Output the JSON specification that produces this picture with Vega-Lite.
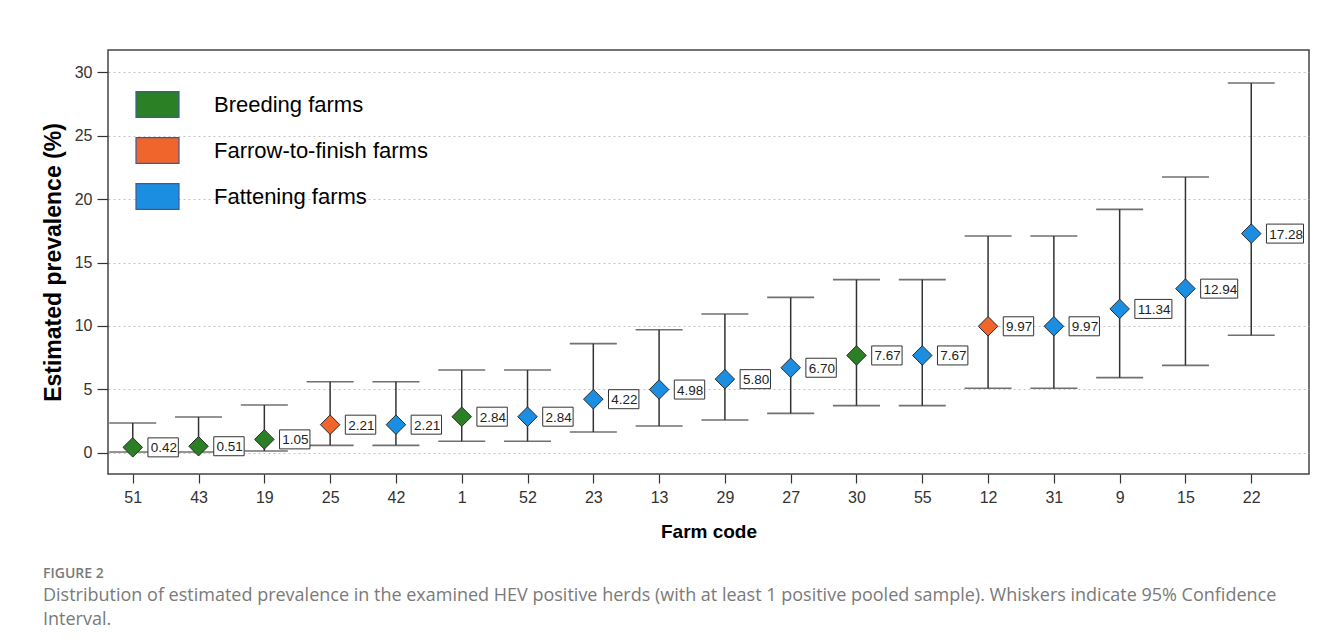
{
  "$schema": "https://vega.github.io/schema/vega-lite/v6.json",
  "width": 1201,
  "height": 424,
  "autosize": {"type": "none"},
  "padding": {"left": 108, "top": 50, "right": 11, "bottom": 170},
  "background": "white",
  "title": {
    "text": "FIGURE 2",
    "subtitle": ["Distribution of estimated prevalence in the examined HEV positive herds (with at least 1 positive pooled sample). Whiskers indicate 95% Confidence", "Interval."],
    "orient": "bottom",
    "anchor": "start",
    "frame": "group",
    "dx": -65,
    "offset": 26,
    "font": "Open Sans",
    "fontSize": 14,
    "fontWeight": 600,
    "color": "#7a7a7a",
    "subtitleFont": "Open Sans",
    "subtitleFontSize": 18,
    "subtitleColor": "#7a7a7a",
    "subtitleLineHeight": 24,
    "subtitlePadding": 6
  },
  "data": {
    "values": [
      {"code": "51", "type": "Breeding farms", "est": 0.42, "lo": 0.05, "hi": 2.34, "label": "0.42"},
      {"code": "43", "type": "Breeding farms", "est": 0.51, "lo": 0.05, "hi": 2.81, "label": "0.51"},
      {"code": "19", "type": "Breeding farms", "est": 1.05, "lo": 0.13, "hi": 3.76, "label": "1.05"},
      {"code": "25", "type": "Farrow-to-finish farms", "est": 2.21, "lo": 0.58, "hi": 5.6, "label": "2.21"},
      {"code": "42", "type": "Fattening farms", "est": 2.21, "lo": 0.58, "hi": 5.6, "label": "2.21"},
      {"code": "1", "type": "Breeding farms", "est": 2.84, "lo": 0.9, "hi": 6.52, "label": "2.84"},
      {"code": "52", "type": "Fattening farms", "est": 2.84, "lo": 0.9, "hi": 6.52, "label": "2.84"},
      {"code": "23", "type": "Fattening farms", "est": 4.22, "lo": 1.63, "hi": 8.6, "label": "4.22"},
      {"code": "13", "type": "Fattening farms", "est": 4.98, "lo": 2.1, "hi": 9.7, "label": "4.98"},
      {"code": "29", "type": "Fattening farms", "est": 5.8, "lo": 2.58, "hi": 10.94, "label": "5.80"},
      {"code": "27", "type": "Fattening farms", "est": 6.7, "lo": 3.1, "hi": 12.25, "label": "6.70"},
      {"code": "30", "type": "Breeding farms", "est": 7.67, "lo": 3.71, "hi": 13.65, "label": "7.67"},
      {"code": "55", "type": "Fattening farms", "est": 7.67, "lo": 3.71, "hi": 13.65, "label": "7.67"},
      {"code": "12", "type": "Farrow-to-finish farms", "est": 9.97, "lo": 5.08, "hi": 17.09, "label": "9.97"},
      {"code": "31", "type": "Fattening farms", "est": 9.97, "lo": 5.08, "hi": 17.09, "label": "9.97"},
      {"code": "9", "type": "Fattening farms", "est": 11.34, "lo": 5.92, "hi": 19.19, "label": "11.34"},
      {"code": "15", "type": "Fattening farms", "est": 12.94, "lo": 6.89, "hi": 21.74, "label": "12.94"},
      {"code": "22", "type": "Fattening farms", "est": 17.28, "lo": 9.26, "hi": 29.16, "label": "17.28"}
    ]
  },
  "encoding": {
    "x": {
      "field": "code",
      "type": "ordinal",
      "sort": null,
      "scale": {"type": "point", "padding": 0.627, "align": 0.3},
      "axis": {
        "title": "Farm code",
        "titleFont": "Liberation Sans",
        "titleFontSize": 19,
        "titleFontWeight": "bold",
        "titleColor": "#000000",
        "titlePadding": 17,
        "labelFont": "Liberation Sans",
        "labelFontSize": 16,
        "labelColor": "#333333",
        "labelPadding": 6,
        "labelAngle": 0,
        "tickSize": 9,
        "tickColor": "#333333",
        "tickWidth": 1.2,
        "domain": false,
        "grid": false
      }
    },
    "y": {
      "type": "quantitative",
      "scale": {"domain": [-1.68, 31.76], "nice": false, "zero": false},
      "axis": {
        "title": "Estimated prevalence (%)",
        "titleFont": "Liberation Sans",
        "titleFontSize": 23,
        "titleFontWeight": "bold",
        "titleColor": "#000000",
        "titlePadding": 9,
        "values": [0, 5, 10, 15, 20, 25, 30],
        "labelFont": "Liberation Sans",
        "labelFontSize": 16,
        "labelColor": "#333333",
        "labelPadding": 5,
        "tickSize": 11,
        "tickColor": "#333333",
        "tickWidth": 1.2,
        "domain": false,
        "grid": true,
        "gridColor": "#c4c4c4",
        "gridDash": [2, 3],
        "gridWidth": 1
      }
    }
  },
  "layer": [
    {
      "mark": {"type": "rule", "color": "#333333", "strokeWidth": 1.5},
      "encoding": {"y": {"field": "lo"}, "y2": {"field": "hi"}}
    },
    {
      "mark": {"type": "tick", "color": "#333333", "size": 47, "thickness": 1.6},
      "encoding": {"y": {"field": "lo"}}
    },
    {
      "mark": {"type": "tick", "color": "#333333", "size": 47, "thickness": 1.6},
      "encoding": {"y": {"field": "hi"}}
    },
    {
      "mark": {"type": "point", "filled": true, "fill": "white", "stroke": "#333333", "strokeWidth": 1, "size": 361, "opacity": 1},
      "encoding": {
        "y": {"field": "est"},
        "shape": {
          "condition": {"test": "length(datum.label) > 4", "value": "M1.6,-1H5.5V1H1.6Z"},
          "value": "M1.6,-1H4.8V1H1.6Z"
        }
      }
    },
    {
      "mark": {"type": "text", "align": "left", "baseline": "middle", "dx": 18, "dy": 1, "font": "Liberation Sans", "fontSize": 13.5, "color": "#222222"},
      "encoding": {"y": {"field": "est"}, "text": {"field": "label"}}
    },
    {
      "mark": {"type": "point", "shape": "diamond", "filled": true, "size": 380, "stroke": "#2a2a2a", "strokeWidth": 1, "opacity": 1},
      "encoding": {
        "y": {"field": "est"},
        "fill": {
          "field": "type",
          "type": "nominal",
          "scale": {
            "domain": ["Breeding farms", "Farrow-to-finish farms", "Fattening farms"],
            "range": ["#2b7f25", "#f0652b", "#1c8ee2"]
          },
          "legend": {
            "title": null,
            "orient": "none",
            "legendX": 27,
            "legendY": 32,
            "direction": "vertical",
            "symbolType": "M-1,-0.6H1V0.6H-1Z",
            "symbolSize": 1849,
            "symbolStrokeColor": "#3d5a99",
            "symbolStrokeWidth": 1.2,
            "symbolOpacity": 1,
            "labelFont": "Liberation Sans",
            "labelFontSize": 22,
            "labelColor": "#000000",
            "labelOffset": 34,
            "rowPadding": 8,
            "labelLimit": 400
          }
        }
      }
    }
  ],
  "config": {
    "view": {"stroke": "#444444", "strokeWidth": 1.5},
    "font": "Liberation Sans"
  }
}
